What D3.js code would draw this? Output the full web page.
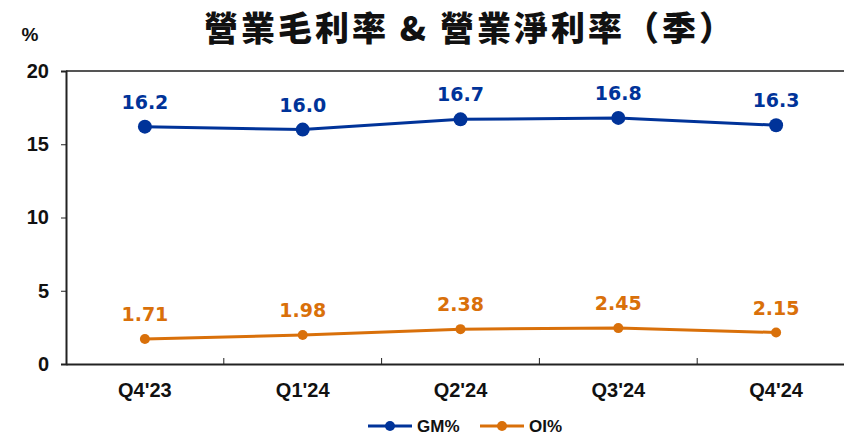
<!DOCTYPE html>
<html>
<head>
<meta charset="utf-8">
<script src="https://cdn.jsdelivr.net/npm/d3@7"></script>
<style>
  body { margin: 0; background: #fff; }
  svg { display: block; }
</style>
</head>
<body>
<div class="chart"></div>
<script>
// data
var quarters = ["Q4'23", "Q1'24", "Q2'24", "Q3'24", "Q4'24"];
var gm = [16.2, 16.0, 16.7, 16.8, 16.3];
var oi = [1.71, 1.98, 2.38, 2.45, 2.15];
var gmLabels = ["16.2", "16.0", "16.7", "16.8", "16.3"];
var oiLabels = ["1.71", "1.98", "2.38", "2.45", "2.15"];
var yTicks = [0, 5, 10, 15, 20];

var W = 844, H = 437;
var margin = {top: 71, left: 66, bottom: 73},
    plotW = 789,
    plotH = H - margin.top - margin.bottom;

var blue = "#003399", orange = "#d9700a";

var svg = d3.select(".chart").append("svg")
    .attr("width", W)
    .attr("height", H);

// scales
var x = d3.scaleBand().domain(quarters).range([0, plotW]);
var y = d3.scaleLinear().domain([0, 20]).range([plotH, 0]);

var g = svg.append("g")
    .attr("transform", "translate(" + margin.left + "," + margin.top + ")");

// top border
g.append("line")
    .attr("x1", 0).attr("x2", plotW)
    .attr("y1", 0).attr("y2", 0)
    .attr("stroke", "#555").attr("stroke-width", 2);

// y axis
var yAxis = g.append("g")
    .call(d3.axisLeft(y).tickValues(yTicks).tickSize(5).tickPadding(12));
yAxis.select(".domain").attr("stroke", "#222").attr("stroke-width", 2);
yAxis.selectAll(".tick line").attr("stroke", "#222");
yAxis.selectAll("text")
    .attr("font-family", "Arial, 'Liberation Sans', sans-serif")
    .attr("font-weight", "bold")
    .attr("font-size", 20)
    .attr("fill", "#111");

// x axis (ticks between categories, pointing up)
var xAxis = g.append("g")
    .attr("transform", "translate(0," + plotH + ")")
    .call(d3.axisBottom(x).tickSize(0).tickPadding(19));
xAxis.select(".domain").attr("stroke", "#222").attr("stroke-width", 2);
xAxis.selectAll("text")
    .attr("font-family", "Arial, 'Liberation Sans', sans-serif")
    .attr("font-weight", "bold")
    .attr("font-size", 20)
    .attr("fill", "#111");
g.selectAll(".sep")
    .data(quarters.slice(1))
    .enter().append("line")
    .attr("class", "sep")
    .attr("x1", function(d) { return x(d); })
    .attr("x2", function(d) { return x(d); })
    .attr("y1", plotH).attr("y2", plotH - 6)
    .attr("stroke", "#222");

var cx = function(d, i) { return x(quarters[i]) + x.bandwidth() / 2; };

function drawSeries(values, labels, color, r) {
  var line = d3.line()
      .x(function(d, i) { return cx(d, i); })
      .y(function(d) { return y(d); });
  g.append("path")
      .datum(values)
      .attr("fill", "none")
      .attr("stroke", color)
      .attr("stroke-width", 3)
      .attr("d", line);
  g.selectAll(null)
      .data(values)
      .enter().append("circle")
      .attr("cx", cx)
      .attr("cy", function(d) { return y(d); })
      .attr("r", r)
      .attr("fill", color);
  g.selectAll(null)
      .data(values)
      .enter().append("text")
      .attr("x", cx)
      .attr("y", function(d) { return y(d) - 18; })
      .attr("text-anchor", "middle")
      .attr("font-family", "Verdana, 'DejaVu Sans', sans-serif")
      .attr("font-weight", "bold")
      .attr("font-size", 19)
      .attr("fill", color)
      .text(function(d, i) { return labels[i]; });
}

drawSeries(gm, gmLabels, blue, 7);
drawSeries(oi, oiLabels, orange, 5);

// title
svg.append("text")
    .attr("x", 470).attr("y", 41)
    .attr("text-anchor", "middle")
    .attr("font-family", "'Noto Sans CJK TC', sans-serif")
    .attr("font-weight", "900")
    .attr("font-size", 34)
    .attr("letter-spacing", 3)
    .attr("fill", "#111")
    .text("營業毛利率 & 營業淨利率（季）");

svg.append("text")
    .attr("x", 30).attr("y", 41)
    .attr("text-anchor", "middle")
    .attr("font-family", "Arial, 'Liberation Sans', sans-serif")
    .attr("font-weight", "bold")
    .attr("font-size", 19)
    .attr("fill", "#111")
    .text("%");

// legend
var legend = [
  {name: "GM%", color: blue, x: 368},
  {name: "OI%", color: orange, x: 480}
];
var lg = svg.selectAll(".legend")
    .data(legend)
    .enter().append("g")
    .attr("transform", function(d) { return "translate(" + d.x + ",426)"; });
lg.append("line")
    .attr("x1", 0).attr("x2", 44)
    .attr("stroke", function(d) { return d.color; })
    .attr("stroke-width", 3);
lg.append("circle")
    .attr("cx", 22).attr("r", 5)
    .attr("fill", function(d) { return d.color; });
lg.append("text")
    .attr("x", 49).attr("y", 6)
    .attr("font-family", "Arial, 'Liberation Sans', sans-serif")
    .attr("font-weight", "bold")
    .attr("font-size", 17)
    .attr("fill", "#111")
    .text(function(d) { return d.name; });
</script>
</body>
</html>
